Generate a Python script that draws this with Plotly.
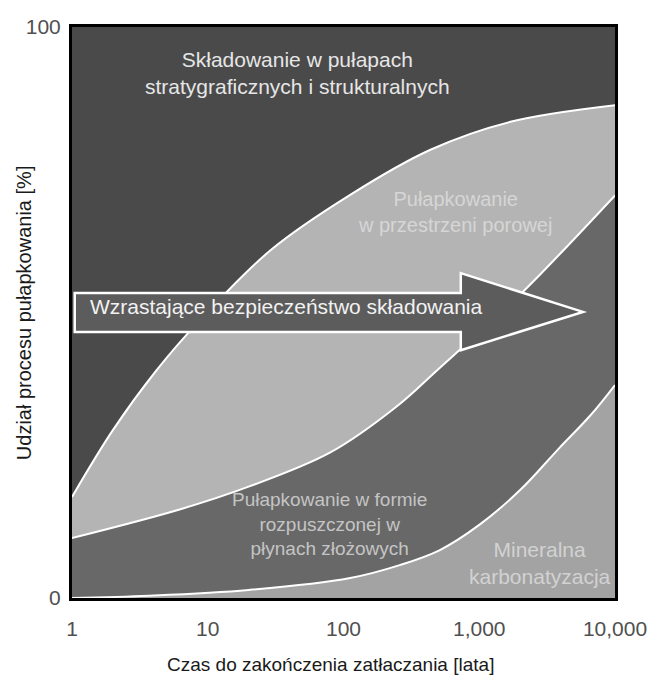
import plotly.graph_objects as go

# Boundary curves (cumulative share, %)
years_upper = [1, 2, 4.2, 8.8, 29, 112, 437, 1700, 10000]
share_upper = [17.7, 29.4, 39.9, 48.7, 60.9, 70.6, 78.5, 83.4, 86.3]

years_middle = [1, 6.2, 20, 80, 245, 490, 2090, 4170, 10000]
share_middle = [10.5, 15.5, 19.5, 25.5, 33.5, 39.9, 53.6, 60.9, 70.5]

years_lower = [1, 3.7, 20, 112, 263, 513, 1000, 2000, 3900, 6600, 10000]
share_lower = [0, 0.4, 1.4, 3.5, 5.8, 8.4, 12.8, 18.9, 26.3, 32.0, 37.3]

years_top = [1, 10000]
share_top = [100, 100]

x_tickvals = [1, 10, 100, 1000, 10000]
x_ticktext = ["1", "10", "100", "1,000", "10,000"]
y_tickvals = [0, 100]
y_ticktext = ["0", "100"]

x_title = "Czas do zakończenia zatłaczania [lata]"
y_title = "Udział procesu pułapkowania [%]"

FONT = "Liberation Sans, Arial, sans-serif"

fig = go.Figure()
fig.add_trace(go.Scatter(x=years_lower, y=share_lower, mode="lines",
                         line=dict(color="white", width=2, shape="spline"),
                         fill="tozeroy", fillcolor="#a3a3a3",
                         name="Mineralna karbonatyzacja", hoverinfo="skip"))
fig.add_trace(go.Scatter(x=years_middle, y=share_middle, mode="lines",
                         line=dict(color="white", width=2, shape="spline"),
                         fill="tonexty", fillcolor="#686868",
                         name="Pułapkowanie w formie rozpuszczonej", hoverinfo="skip"))
fig.add_trace(go.Scatter(x=years_upper, y=share_upper, mode="lines",
                         line=dict(color="white", width=2, shape="spline"),
                         fill="tonexty", fillcolor="#b4b4b4",
                         name="Pułapkowanie w przestrzeni porowej", hoverinfo="skip"))
fig.add_trace(go.Scatter(x=years_top, y=share_top, mode="lines",
                         line=dict(color="#4a4a4a", width=0),
                         fill="tonexty", fillcolor="#4a4a4a",
                         name="Składowanie w pułapach", hoverinfo="skip"))

# Arrow (paper coordinates)
arrow_path = ("M 0.005 0.466 L 0.716 0.466 L 0.716 0.434 L 0.941 0.501 "
              "L 0.716 0.569 L 0.716 0.534 L 0.005 0.534 Z")
fig.add_shape(type="path", path=arrow_path, xref="paper", yref="paper",
              fillcolor="#5c5c5c", line=dict(color="white", width=2.5), layer="above")

annotations = [
    dict(x=0.029, y=0.511, text="Wzrastające bezpieczeństwo składowania",
         xanchor="left", font=dict(size=21, color="#f2f2f2")),
    dict(x=0.416, y=0.919, text="Składowanie w pułapach<br>stratygraficznych i strukturalnych",
         font=dict(size=21, color="#e6e6e6")),
    dict(x=0.705, y=0.676, text="Pułapkowanie<br>w przestrzeni porowej",
         font=dict(size=20, color="#d6d6d6")),
    dict(x=0.475, y=0.130, text="Pułapkowanie w formie<br>rozpuszczonej w<br>płynach złożowych",
         font=dict(size=19, color="#c4c4c4")),
    dict(x=0.862, y=0.061, text="Mineralna<br>karbonatyzacja",
         font=dict(size=21, color="#d2d2d2")),
    dict(x=0.476, y=-0.117, text=x_title, font=dict(size=19, color="#1a1a1a")),
    dict(x=-0.089, y=0.50, text=y_title, textangle=-90, font=dict(size=20, color="#1a1a1a")),
]
for a in annotations:
    a.update(xref="paper", yref="paper", showarrow=False, yanchor="middle",
             xanchor=a.get("xanchor", "center"))
    a["font"]["family"] = FONT
fig.update_layout(annotations=annotations)

fig.update_layout(
    width=648, height=677,
    margin=dict(l=72, r=33, t=27, b=79),
    paper_bgcolor="white", plot_bgcolor="#4a4a4a",
    showlegend=False,
    font=dict(family=FONT, color="#222222"),
    xaxis=dict(type="log", range=[0, 4], tickvals=x_tickvals, ticktext=x_ticktext,
               showgrid=False, zeroline=False, showline=True, linecolor="black",
               linewidth=3, mirror=True, ticks="", ticklabelstandoff=10,
               automargin=False, tickfont=dict(size=21, color="#505050")),
    yaxis=dict(range=[0, 100], tickvals=y_tickvals, ticktext=y_ticktext,
               showgrid=False, zeroline=False, showline=True, linecolor="black",
               linewidth=3, mirror=True, ticks="", ticklabelstandoff=4,
               automargin=False, tickfont=dict(size=21, color="#505050")),
)

fig.write_html("out.html", config={"displayModeBar": False},
               post_script="document.body.style.margin='0';document.body.style.overflow='hidden';")
